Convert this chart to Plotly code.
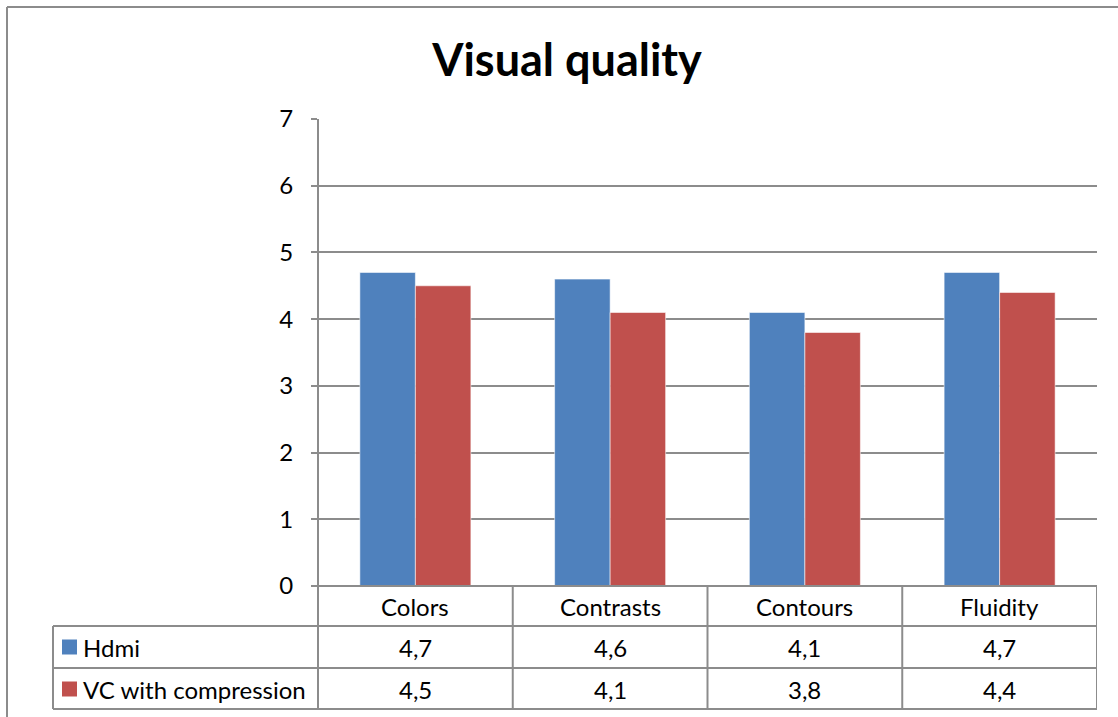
import plotly.graph_objects as go

categories = ["Colors", "Contrasts", "Contours", "Fluidity"]
series_names = ["Hdmi", "VC with compression"]
hdmi = [4.7, 4.6, 4.1, 4.7]
vc = [4.5, 4.1, 3.8, 4.4]
colors = ["#4F81BD", "#C0504D"]
y_ticks = [0, 1, 2, 3, 4, 5, 6, 7]

W, H = 1118, 717
FONT = "Lato"
GRID = "#8c8c8c"
TXT = 24

def px_x(x):
    return x / W

def px_y(y):
    return 1 - y / H

fig = go.Figure()
for name, vals, c in zip(series_names, [hdmi, vc], colors):
    fig.add_trace(go.Bar(
        x=categories, y=vals, name=name,
        marker=dict(color=c, line=dict(color="rgba(255,255,255,0.55)", width=1)),
    ))

fig.update_layout(
    template="none",
    width=W, height=H, autosize=False,
    margin=dict(l=0, r=0, t=0, b=0, pad=0, autoexpand=False),
    paper_bgcolor="white", plot_bgcolor="white",
    barmode="group", bargap=0.43, bargroupgap=0,
    showlegend=False,
    font=dict(family=FONT, color="black", size=TXT),
    title=dict(text="<b>Visual quality</b>", x=567 / W, xanchor="center",
               xref="paper", yref="paper",
               y=px_y(60), yanchor="middle",
               font=dict(family=FONT, size=45, color="black")),
    xaxis=dict(domain=[px_x(318), px_x(1097)], showticklabels=False,
               showgrid=False, zeroline=False, showline=False, ticks="",
               automargin=False,
               range=[-0.5, len(categories) - 0.5]),
    yaxis=dict(domain=[px_y(586), px_y(119)], range=[0, 7], tickvals=y_ticks,
               showgrid=True, gridcolor=GRID, gridwidth=1.6,
               zeroline=False, showline=False, automargin=False,
               ticks="outside", ticklen=6, tickcolor=GRID, tickwidth=1.6,
               ticklabelstandoff=13,
               tickfont=dict(family=FONT, size=TXT, color="black")),
)

shapes = []
def line(x0, y0, x1, y1, xref="paper"):
    shapes.append(dict(type="line", xref=xref, yref="paper",
                       x0=x0, y0=y0, x1=x1, y1=y1,
                       line=dict(color=GRID, width=2)))

# outer frame
line(px_x(7), px_y(7), px_x(W), px_y(7))
line(px_x(7), px_y(7), px_x(7), px_y(H))
# y axis line down through table
line(px_x(318), px_y(119), px_x(318), px_y(709))
# axis / table horizontal lines
line(px_x(318), px_y(586), px_x(1097), px_y(586))
for yy in [626, 668, 709]:
    line(px_x(53), px_y(yy), px_x(1097), px_y(yy))
line(px_x(53), px_y(626), px_x(53), px_y(709))
# column separators at category boundaries (axis coords)
for i in range(1, len(categories) + 1):
    shapes.append(dict(type="line", xref="x", yref="paper",
                       x0=i - 0.5, x1=i - 0.5, y0=px_y(586), y1=px_y(709),
                       line=dict(color=GRID, width=2)))
# legend keys
for c, yc in zip(colors, [647, 689]):
    shapes.append(dict(type="rect", xref="paper", yref="paper",
                       x0=px_x(62), x1=px_x(77), y0=px_y(yc - 7.5), y1=px_y(yc + 7.5),
                       fillcolor=c, line=dict(width=0)))
fig.update_layout(shapes=shapes)

ann = []
for cat in categories:
    ann.append(dict(x=cat, xref="x", y=px_y(606), yref="paper", text=cat,
                    showarrow=False, xanchor="center", yanchor="middle",
                    font=dict(family=FONT, size=TXT, color="black")))
for vals, yc in zip([hdmi, vc], [647, 689]):
    for cat, v in zip(categories, vals):
        ann.append(dict(x=cat, xref="x", y=px_y(yc), yref="paper",
                        text=f"{v:.1f}".replace(".", ","),
                        showarrow=False, xanchor="center", yanchor="middle",
                        font=dict(family=FONT, size=TXT, color="black")))
for name, yc in zip(series_names, [647, 689]):
    ann.append(dict(x=px_x(81), xref="paper", y=px_y(yc), yref="paper", text=name,
                    showarrow=False, xanchor="left", yanchor="middle",
                    font=dict(family=FONT, size=TXT, color="black")))
fig.update_layout(annotations=ann)

fig.write_html("out.html")
